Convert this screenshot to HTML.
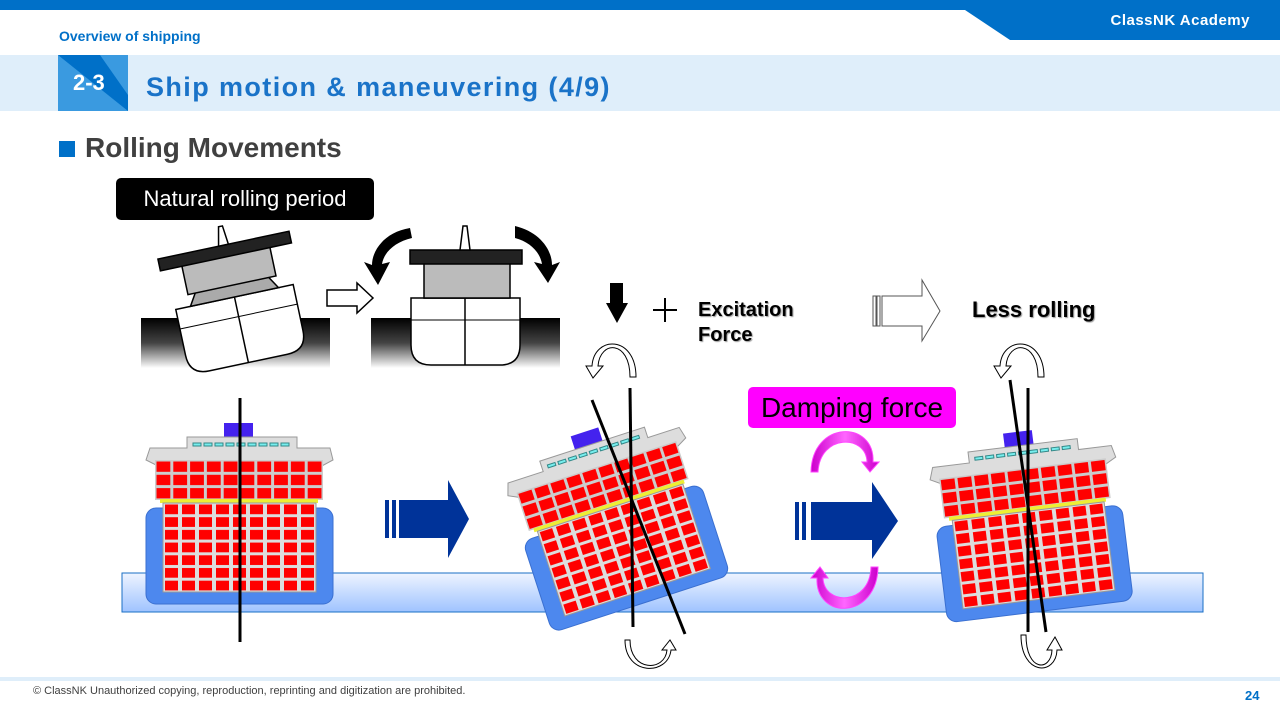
<!DOCTYPE html>
<html><head><meta charset="utf-8"><style>
body{margin:0;width:1280px;height:720px;overflow:hidden;background:#fff;font-family:"Liberation Sans",sans-serif;position:relative}
.a{position:absolute;white-space:nowrap}
</style></head><body>
<div class="a" style="left:0;top:0;width:1280px;height:10px;background:#0070c8"></div>
<svg class="a" style="left:0;top:0" width="1280" height="720">
<polygon points="965,10 1280,10 1280,40 1010,40" fill="#0070c8"/>
<rect x="0" y="55" width="1280" height="56" fill="#dfeefa"/>
<rect x="58" y="55" width="70" height="56" fill="#3a9ae0"/>
<polygon points="58,55 100,55 128,95 128,111" fill="#0070c8"/>
<rect x="59" y="141" width="16" height="16" fill="#0070c8"/>
<rect x="0" y="677" width="1280" height="4" fill="#dfeefa"/>
</svg>
<div class="a" style="right:30px;top:12px;color:#fff;font-weight:bold;font-size:15px;letter-spacing:0.5px">ClassNK Academy</div>
<div class="a" style="left:59px;top:28px;color:#0070c8;font-weight:bold;font-size:14px">Overview of shipping</div>
<div class="a" style="left:73px;top:70px;color:#fff;font-weight:bold;font-size:22px">2-3</div>
<div class="a" style="left:146px;top:72px;color:#1a73c8;font-weight:bold;font-size:27px;letter-spacing:1.4px">Ship motion &amp; maneuvering (4/9)</div>
<div class="a" style="left:85px;top:132px;color:#404040;font-weight:bold;font-size:28px">Rolling Movements</div>
<div class="a" style="left:116px;top:178px;width:258px;height:42px;background:#000;border-radius:5px;color:#fff;font-size:22px;line-height:42px;text-align:center">Natural rolling period</div>
<div class="a" style="left:698px;top:298px;font-weight:bold;font-size:20px;line-height:25px;text-shadow:1px 1px 1px #999">Excitation<br>Force</div>
<div class="a" style="left:972px;top:297px;font-weight:bold;font-size:22px;text-shadow:1px 1px 1px #999">Less rolling</div>
<div class="a" style="left:748px;top:387px;width:208px;height:41px;background:#ff00ff;border-radius:5px;font-size:28px;line-height:41px;text-align:center">Damping force</div>
<div class="a" style="left:33px;top:685px;color:#404040;font-size:11px">© ClassNK Unauthorized copying, reproduction, reprinting and digitization are prohibited.</div>
<div class="a" style="left:1245px;top:688px;color:#0070c8;font-weight:bold;font-size:13px">24</div>

<svg class="a" style="left:0;top:0" width="1280" height="720">
<defs>
<pattern id="dk" x="155" y="460" width="16.8" height="13.3" patternUnits="userSpaceOnUse"><rect width="16.8" height="13.3" fill="#ccc"/><rect x="1.5" y="1.5" width="13.8" height="10.3" fill="#f00"/></pattern>
<pattern id="hd" x="163" y="503" width="17" height="12.7" patternUnits="userSpaceOnUse"><rect width="17" height="12.7" fill="#ddd"/><rect x="2" y="1.5" width="13" height="9.7" fill="#f00"/></pattern>
<linearGradient id="wt" x1="0" y1="0" x2="0" y2="1"><stop offset="0" stop-color="#eef4ff"/><stop offset="1" stop-color="#9fc3ff"/></linearGradient>
<linearGradient id="sea" x1="0" y1="0" x2="0" y2="1"><stop offset="0" stop-color="#000"/><stop offset="0.5" stop-color="#444"/><stop offset="1" stop-color="#fff"/></linearGradient>
<linearGradient id="mg" x1="0" y1="0" x2="1" y2="0"><stop offset="0" stop-color="#cc00cc"/><stop offset="0.5" stop-color="#ff66ff"/><stop offset="1" stop-color="#cc00cc"/></linearGradient>
<g id="ship">
<rect x="146" y="508" width="187" height="96" rx="10" fill="#4d88ee" stroke="#3a6fd0"/>
<rect x="224" y="423" width="29" height="14" fill="#4422ee"/>
<polygon points="187,437 297,437 297,448 330,448 333,460 320,467 160,467 146,460 150,448 187,448" fill="#ddd" stroke="#999"/>
<g fill="#7ee" stroke="#388"><rect x="193" y="443" width="8" height="3"/><rect x="204" y="443" width="8" height="3"/><rect x="215" y="443" width="8" height="3"/><rect x="226" y="443" width="8" height="3"/><rect x="237" y="443" width="8" height="3"/><rect x="248" y="443" width="8" height="3"/><rect x="259" y="443" width="8" height="3"/><rect x="270" y="443" width="8" height="3"/><rect x="281" y="443" width="8" height="3"/></g>
<rect x="155" y="460" width="168" height="40" fill="url(#dk)"/>
<rect x="160" y="499" width="158" height="4" fill="#ee3"/>
<rect x="163" y="503" width="153" height="89" fill="url(#hd)" stroke="#999"/>
</g>
</defs>
<rect x="122" y="573" width="1081" height="39" fill="url(#wt)" stroke="#1a6fc4"/>
<use href="#ship"/>
<use href="#ship" transform="translate(374 4) rotate(-18 240 514)"/>
<use href="#ship" transform="translate(790 8) rotate(-7 240 514)"/>
<line x1="240" y1="398" x2="240" y2="642" stroke="#000" stroke-width="3"/>
<line x1="630" y1="388" x2="633" y2="627" stroke="#000" stroke-width="3"/>
<line x1="592" y1="400" x2="685" y2="634" stroke="#000" stroke-width="3"/>
<line x1="1028" y1="388" x2="1028" y2="632" stroke="#000" stroke-width="3"/>
<line x1="1010" y1="380" x2="1046" y2="632" stroke="#000" stroke-width="3"/>
<g fill="#fff" stroke="#000" stroke-width="1">
<path d="M630,377 C630,340 600,340 598,366 L603,366 L593,378 L586,366 L592,366 C594,335 636,335 636,377Z"/>
<path d="M630,640 C630,672 665,672 667,650 L662,650 L670,640 L676,650 L671,650 C668,676 625,676 625,640Z"/>
<path d="M1038,377 C1038,340 1008,340 1006,366 L1011,366 L1001,378 L994,366 L1000,366 C1002,335 1044,335 1044,377Z"/>
<path d="M1026,635 C1026,672 1051,672 1052,650 L1047,650 L1055,637 L1062,650 L1057,650 C1056,676 1021,676 1021,635Z"/>
</g>
<g fill="#003399"><rect x="385" y="500" width="4" height="38"/><rect x="392" y="500" width="4" height="38"/><polygon points="399,500 448,500 448,480 469,519 448,558 448,538 399,538"/>
<rect x="795" y="502" width="4" height="38"/><rect x="802" y="502" width="4" height="38"/><polygon points="811,502 872,502 872,482 898,521 872,559 872,540 811,540"/></g>
<path d="M811,472 C812,420 875,420 873,462 L879,462 L870,472 L862,462 L867,462 C866,434 820,434 818,472Z" fill="url(#mg)" stroke="#ff44ff"/>
<path d="M878,567 C877,620 815,620 817,578 L811,578 L820,567 L828,578 L823,578 C824,606 870,606 871,567Z" fill="url(#mg)" stroke="#ff44ff"/>
<rect x="610" y="283" width="13" height="22" fill="#000"/>
<polygon points="606,303 628,303 617,323" fill="#000"/>
<line x1="653" y1="310" x2="677" y2="310" stroke="#000" stroke-width="2"/><line x1="665" y1="298" x2="665" y2="322" stroke="#000" stroke-width="2"/>
<g fill="#fff" stroke="#555"><rect x="873" y="296" width="3" height="30"/><rect x="877" y="296" width="3" height="30"/><polygon points="882,296 922,296 922,280 940,311 922,341 922,326 882,326"/></g>
<polygon points="327,290 357,290 357,283 373,298 357,313 357,306 327,306" fill="#fff" stroke="#000" stroke-width="1.5"/>
<rect x="141" y="318" width="189" height="50" fill="url(#sea)"/>
<rect x="371" y="318" width="189" height="50" fill="url(#sea)"/>
<g transform="rotate(-12 230 300)" stroke="#000" stroke-width="1.5">
<path d="M175,298 L295,298 L295,345 Q295,365 275,365 L195,365 Q175,365 175,345Z" fill="#fff"/>
<line x1="235" y1="298" x2="235" y2="365"/><line x1="175" y1="318" x2="295" y2="318" stroke-width="1"/>
<polygon points="190,298 280,298 272,285 198,285" fill="#aaa"/>
<rect x="190" y="256" width="90" height="30" fill="#bbb"/>
<rect x="168" y="245" width="134" height="12" fill="#222"/>
<polygon points="230,245 234,226 238,226 240,245" fill="#fff"/>
</g>
<g stroke="#000" stroke-width="1.5">
<path d="M411,298 L520,298 L520,345 Q520,365 500,365 L431,365 Q411,365 411,345Z" fill="#fff"/>
<line x1="465" y1="298" x2="465" y2="365"/><line x1="411" y1="320" x2="520" y2="320" stroke-width="1"/>
<polygon points="425,298 508,298 498,285 435,285" fill="#aaa"/>
<rect x="424" y="262" width="86" height="36" fill="#bbb"/>
<rect x="410" y="250" width="112" height="14" fill="#222"/>
<polygon points="460,250 463,226 467,226 470,250" fill="#fff"/>
</g>
<path d="M410,228 C385,232 372,250 372,265 L364,262 L378,285 L390,262 L382,264 C384,252 395,242 412,238Z" fill="#000"/>
<path d="M515,226 C540,232 552,250 552,265 L560,262 L548,283 L534,262 L542,264 C540,252 530,242 515,238Z" fill="#000"/>
</svg>
</body></html>
